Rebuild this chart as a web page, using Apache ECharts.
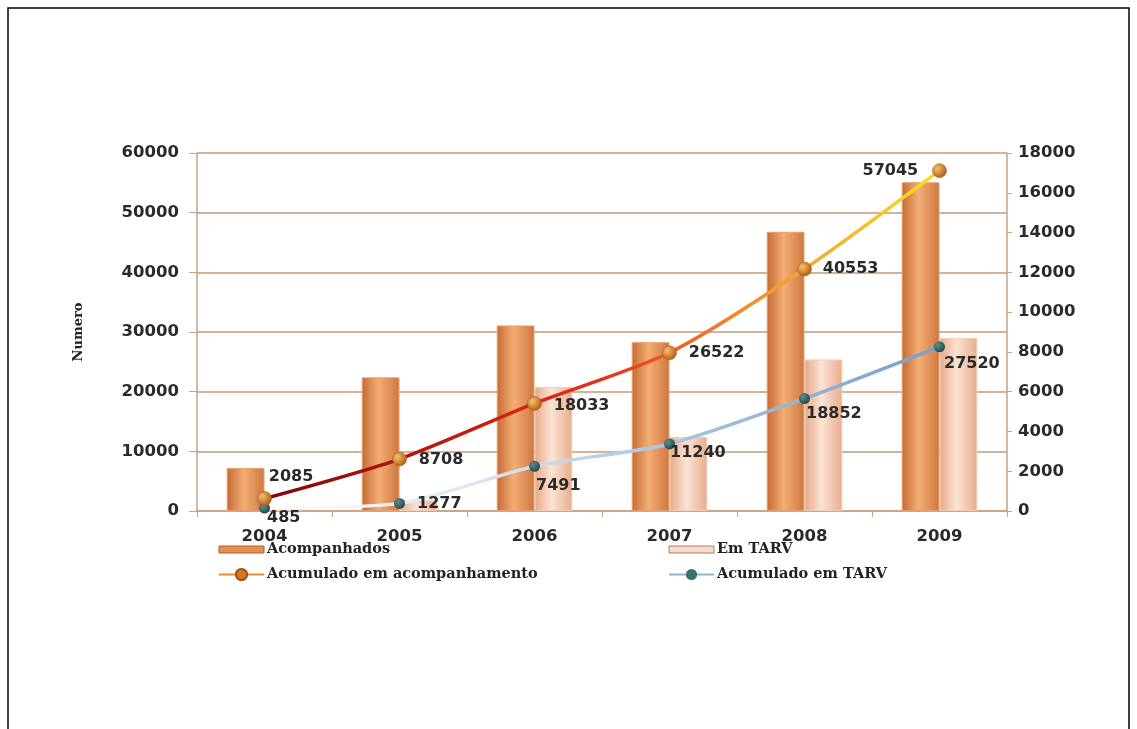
<!DOCTYPE html>
<html>
<head>
<meta charset="utf-8">
<script src="https://cdn.jsdelivr.net/npm/echarts@6/dist/echarts.min.js"></script>
<style>
html,body{margin:0;padding:0;background:#fff;}
#c{width:1137px;height:729px;}
</style>
</head>
<body>
<div id="c"></div>
<script>
const years = ['2004','2005','2006','2007','2008','2009'];
const acompanhados = [7200, 22400, 31100, 28300, 46800, 55100];
const emTarv = [500, 1800, 20800, 12400, 25400, 29000];
const acumAcomp = [2085, 8708, 18033, 26522, 40553, 57045];
const acumTarv = [485, 1277, 7491, 11240, 18852, 27520];
const leftTicks = {min: 0, max: 60000, interval: 10000};
const rightTicks = {min: 0, max: 18000, interval: 2000};

const acompLabelOffsets = [['right',[-8,-22]],['right',[7,1]],['right',[7,2]],['right',[7,0]],['right',[6,0]],['left',[-9,0]]];
const tarvLabelOffsets = [['right',[-8,10]],['right',[7,0]],['right',[-9,20]],['right',[-10,9]],['right',[-9,15]],['right',[-6,17]]];

const G = echarts.graphic;
const axisCol = '#c9a283';
const labelFont = {fontFamily: 'DejaVu Sans', fontWeight: 'bold', fontSize: 16, color: '#2a2a2a'};
const plain = v => String(v);

const chart = echarts.init(document.getElementById('c'));
chart.setOption({
  animation: false,
  backgroundColor: '#fff',
  grid: {left: 197, right: 130, top: 153, bottom: 218, containLabel: false},
  graphic: [{type: 'rect', z: 100, shape: {x: 8, y: 8, width: 1121, height: 760}, style: {fill: null, stroke: '#000', lineWidth: 1.5}}],
  legend: [
    {left: 213, top: 537, orient: 'vertical', itemGap: 10, itemWidth: 45, itemHeight: 14,
     textStyle: {fontFamily: 'DejaVu Serif', fontWeight: 'bold', fontSize: 14.5, color: '#222', padding: [0,0,0,-2]},
     data: [
       {name: 'Acompanhados', icon: 'path://M0,0h45v7h-45z', itemStyle: {color: '#e39050', borderColor: '#b0602a', borderWidth: 1}},
       {name: 'Acumulado em acompanhamento', itemStyle: {color: '#d07a20'}, lineStyle: {color: '#f08a30', width: 2}}
     ]},
    {left: 663, top: 537, orient: 'vertical', itemGap: 10, itemWidth: 45, itemHeight: 14,
     textStyle: {fontFamily: 'DejaVu Serif', fontWeight: 'bold', fontSize: 14.5, color: '#222', padding: [0,0,0,-2]},
     data: [
       {name: 'Em TARV', icon: 'path://M0,0h45v7h-45z', itemStyle: {color: '#f8dccb', borderColor: '#b07a60', borderWidth: 1}},
       {name: 'Acumulado em TARV', itemStyle: {color: '#3a7070'}, lineStyle: {color: '#8fb4d4', width: 2}}
     ]}
  ],
  xAxis: {
    type: 'category', data: years,
    axisLine: {lineStyle: {color: axisCol, width: 1.5}},
    axisTick: {show: true, length: 6, lineStyle: {color: axisCol}},
    axisLabel: {margin: 17, fontFamily: 'DejaVu Sans', fontWeight: 'bold', fontSize: 16.5, color: '#2a2a2a'}
  },
  yAxis: [
    {type: 'value', min: leftTicks.min, max: leftTicks.max, interval: leftTicks.interval,
     name: 'Numero', nameLocation: 'middle', nameRotate: 90, nameGap: 112,
     nameTextStyle: {fontFamily: 'DejaVu Serif', fontWeight: 'bold', fontSize: 13, color: '#222'},
     axisLine: {show: true, lineStyle: {color: axisCol, width: 1.5}},
     axisTick: {show: true, length: 8, lineStyle: {color: axisCol}},
     splitLine: {lineStyle: {color: '#c49a78', width: 1.5}},
     axisLabel: {margin: 18, formatter: plain, fontFamily: 'DejaVu Sans', fontWeight: 'bold', fontSize: 16.5, color: '#2a2a2a'}},
    {type: 'value', min: rightTicks.min, max: rightTicks.max, interval: rightTicks.interval, position: 'right',
     axisLine: {show: true, lineStyle: {color: axisCol, width: 1.5}},
     axisTick: {show: true, length: 5, lineStyle: {color: axisCol}},
     splitLine: {show: false},
     axisLabel: {margin: 11, formatter: plain, fontFamily: 'DejaVu Sans', fontWeight: 'bold', fontSize: 16.5, color: '#2a2a2a'}}
  ],
  series: [
    {name: 'Acompanhados', type: 'bar', data: acompanhados, barWidth: '28%', barGap: '0%',
     itemStyle: {color: new G.LinearGradient(0,0,1,0,[{offset:0,color:'#c46a32'},{offset:0.45,color:'#f4ad74'},{offset:1,color:'#cd773e'}]),
                 borderColor: '#e6a070', borderWidth: 1}},
    {name: 'Em TARV', type: 'bar', data: emTarv, barWidth: '28%', barGap: '0%',
     itemStyle: {color: new G.LinearGradient(0,0,1,0,[{offset:0,color:'#e7a887'},{offset:0.45,color:'#fbe3d4'},{offset:1,color:'#e8ac8c'}]),
                 borderColor: '#f3cdb8', borderWidth: 1}},
    {name: 'Acumulado em acompanhamento', type: 'line', smooth: 0.25, z: 5,
     data: acumAcomp.map((v,i) => ({value: v, label: {position: acompLabelOffsets[i][0], offset: acompLabelOffsets[i][1]}})),
     symbol: 'circle', symbolSize: 14,
     itemStyle: {color: new G.RadialGradient(0.35,0.35,0.7,[{offset:0,color:'#f7c070'},{offset:1,color:'#b05a10'}]), borderColor: '#a05010', borderWidth: 0.5},
     lineStyle: {width: 3.5, color: new G.LinearGradient(0,0,1,0,[{offset:0,color:'#7a0808'},{offset:0.3,color:'#c81a10'},{offset:0.5,color:'#e83018'},{offset:0.72,color:'#f39030'},{offset:1,color:'#f8e020'}])},
     label: Object.assign({show: true, distance: 5}, labelFont)},
    {name: 'Acumulado em TARV', type: 'line', smooth: 0.25, z: 4,
     data: acumTarv.map((v,i) => ({value: v, label: {position: tarvLabelOffsets[i][0], offset: tarvLabelOffsets[i][1]}})),
     symbol: 'circle', symbolSize: 11,
     itemStyle: {color: new G.RadialGradient(0.35,0.35,0.7,[{offset:0,color:'#5a9090'},{offset:1,color:'#1c4a4a'}])},
     lineStyle: {width: 3.5, color: new G.LinearGradient(0,0,1,0,[{offset:0,color:'#ffffff'},{offset:0.3,color:'#dce8f2'},{offset:0.6,color:'#a9c5de'},{offset:1,color:'#7a9fc6'}])},
     label: Object.assign({show: true, distance: 5}, labelFont)}
  ]
});
</script>
</body>
</html>
